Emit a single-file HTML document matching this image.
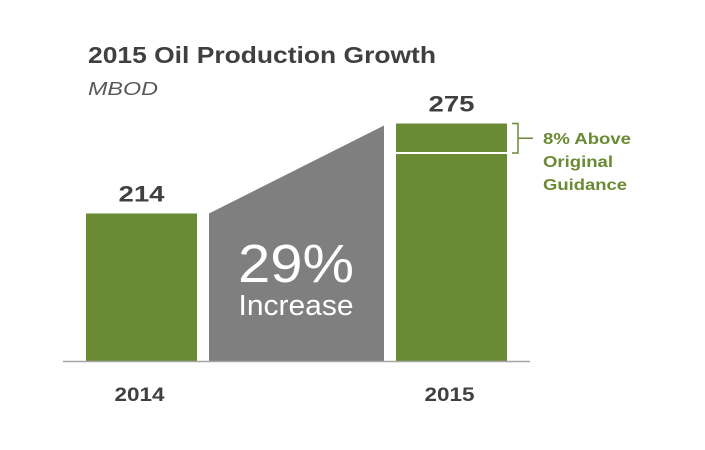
<!DOCTYPE html>
<html><head><meta charset="utf-8"><style>
body{margin:0;background:#fff;width:705px;height:445px;overflow:hidden;font-family:"Liberation Sans",sans-serif}
</style></head><body>
<svg width="705" height="445">
<text x="88" y="63" font-size="23" font-weight="bold" fill="#404040" textLength="348" lengthAdjust="spacingAndGlyphs">2015 Oil Production Growth</text>
<text x="88" y="95" font-size="18" font-style="italic" fill="#595959" textLength="70" lengthAdjust="spacingAndGlyphs">MBOD</text>
<g id="plot"></g>
</svg>
<script>
const categories=["2014","2015"];
const values=[214,275];
const guidance=[255];
const increaseLabel=["29%"];
const yMin=114, baseY=361, pxPer=1.475;
const y=v=>baseY-(v-yMin)*pxPer;
const barX=[86,396], barW=111;
const g=document.getElementById('plot');
const NS='http://www.w3.org/2000/svg';
function mk(t,a,txt){const e=document.createElementNS(NS,t);for(const k in a)e.setAttribute(k,a[k]);if(txt!==undefined)e.textContent=txt;g.appendChild(e);return e;}
let tr=mk('polygon',{points:`209,${y(values[0])} 384,${y(values[1])+2} 384,${baseY} 209,${baseY}`,fill:'#7f7f7f'});


let pt=mk('text',{x:296,y:282,'font-size':54,fill:'#fff','text-anchor':'middle',textLength:116,lengthAdjust:'spacingAndGlyphs'},increaseLabel[0]);


let it=mk('text',{x:296,y:315,'font-size':29,fill:'#fff','text-anchor':'middle',textLength:115,lengthAdjust:'spacingAndGlyphs'},'Increase');


values.forEach((v,i)=>{
  let r=mk('rect',{x:barX[i],y:y(v),width:barW,height:baseY-y(v),fill:'#6a8a34'});
  
  
  let t=mk('text',{x:barX[i]+barW/2,y:y(v)-12,'font-size':22,'font-weight':'bold',fill:'#404040','text-anchor':'middle',textLength:46,lengthAdjust:'spacingAndGlyphs'},String(v));
  
  
  let c=mk('text',{x:barX[i]+barW/2-2,y:401,'font-size':19,'font-weight':'bold',fill:'#404040','text-anchor':'middle',textLength:50,lengthAdjust:'spacingAndGlyphs'},categories[i]);
  
  
});
let gl=mk('line',{x1:barX[1],x2:barX[1]+barW,y1:y(guidance[0]),y2:y(guidance[0]),stroke:'#fff','stroke-width':2});


let br=mk('path',{d:`M512,${y(values[1])} H518 V${y(guidance[0])} H512 M518,${(y(values[1])+y(guidance[0]))/2} H533`,stroke:'#6a8a34','stroke-width':1.5,fill:'none'});


[['8% Above',144,88],['Original',167,70],['Guidance',190,84]].forEach((a,i)=>{
  let t=mk('text',{x:543,y:a[1],'font-size':16,'font-weight':'bold',fill:'#6a8a34',textLength:a[2],lengthAdjust:'spacingAndGlyphs'},a[0]);
  
  
});
let ax=mk('line',{x1:63,x2:530,y1:baseY+0.5,y2:baseY+0.5,stroke:'#a6a6a6','stroke-width':1.5});


</script>
</body></html>
